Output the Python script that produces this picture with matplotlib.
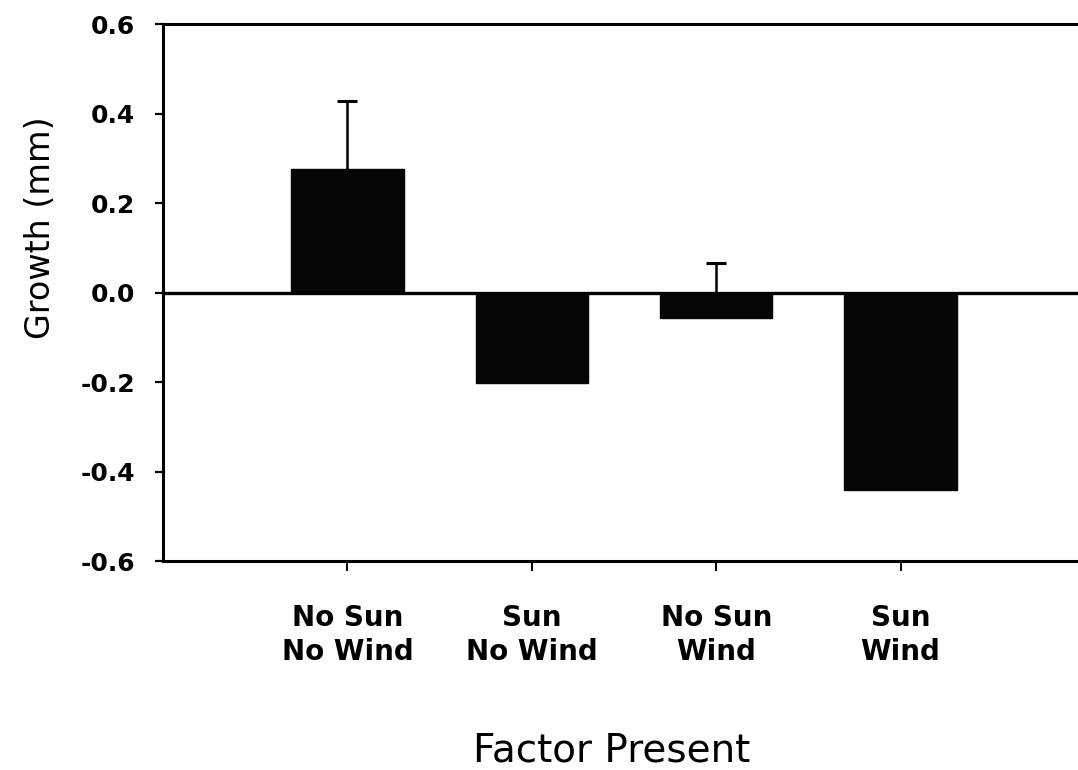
import matplotlib
matplotlib.use('Agg')
import matplotlib.pyplot as plt

plt.rcParams['font.family'] = ['DejaVu Sans']
plt.rcParams['axes.unicode_minus'] = False

# data
categories = ['No Sun\nNo Wind', 'Sun\nNo Wind', 'No Sun\nWind', 'Sun\nWind']
growth = [0.277, -0.203, -0.056, -0.442]
errors = [0.150, 0.0, 0.123, 0.0]
yticks = [-0.6, -0.4, -0.2, 0.0, 0.2, 0.4, 0.6]

fig = plt.figure(figsize=(10.78, 7.7), dpi=100)
ax = fig.add_axes([0.1512, 0.2714, 0.8553, 0.6974])

xpos = list(range(1, len(categories) + 1))
ax.bar(xpos, growth, width=0.61, color='#050505', edgecolor='#050505', zorder=2)

# error bars sit behind the bars, so only the upward part shows
for x, g, e in zip(xpos, growth, errors):
    if e > 0:
        eb = ax.errorbar([x], [g], yerr=[[0], [e]], fmt='none', ecolor='black',
                         elinewidth=1.8, capsize=7, capthick=2.2, zorder=1)
        eb[1][0].set_visible(False)  # no cap at the bar end

ax.axhline(0, color='black', linewidth=2.4, zorder=4)

ax.set_xlim(0, 5)
ax.set_ylim(-0.6, 0.6)
ax.set_xticks(xpos)
ax.set_xticklabels(categories, fontsize=20, fontweight='bold', linespacing=1.25)
ax.set_yticks(yticks)
ax.set_yticklabels(['%.1f' % v for v in yticks], fontsize=18, fontweight='bold')

ax.tick_params(axis='y', direction='out', length=6, width=1.6, pad=14)
ax.tick_params(axis='x', direction='out', length=7, width=1.4, pad=24)

for side in ['left', 'top', 'bottom']:
    ax.spines[side].set_linewidth(2.2)
ax.spines['right'].set_visible(False)

ax.set_ylabel('Growth (mm)', fontsize=24)
ax.yaxis.set_label_coords(-0.115, 0.62)
ax.set_xlabel('Factor Present', fontsize=28)
ax.xaxis.set_label_coords(0.487, -0.318)

fig.savefig('out.png', dpi=100)
